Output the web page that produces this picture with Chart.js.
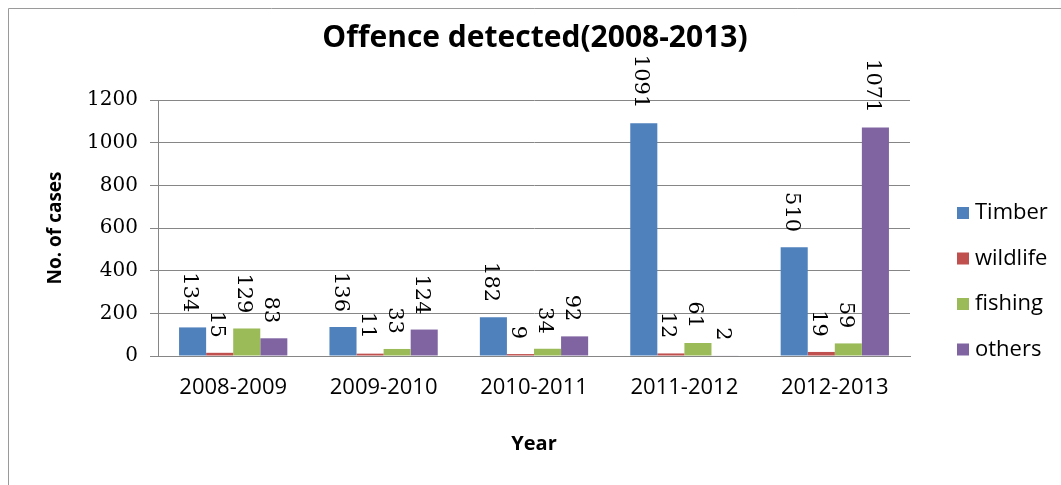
<!DOCTYPE html>
<html>
<head>
<meta charset="utf-8">
<script src="https://cdn.jsdelivr.net/npm/chart.js@4.4.0/dist/chart.umd.min.js"></script>
<style>
  html, body { margin: 0; padding: 0; background: #fff; }
  #wrap { width: 1061px; height: 485px; position: relative; }
</style>
</head>
<body>
<div id="wrap"><canvas id="offenceChart"></canvas></div>
<script>
// chart data
const years = ["2008-2009", "2009-2010", "2010-2011", "2011-2012", "2012-2013"];
const timber = [134, 136, 182, 1091, 510];
const wildlife = [15, 11, 9, 12, 19];
const fishing = [129, 33, 34, 61, 59];
const others = [83, 124, 92, 2, 1071];
const seriesNames = ["Timber", "wildlife", "fishing", "others"];
const seriesColors = ["#4F81BD", "#C0504D", "#9BBB59", "#8064A2"];
const yTicks = [0, 200, 400, 600, 800, 1000, 1200];
const chartTitle = "Offence detected(2008-2013)";

const SANS = "'Open Sans', 'Noto Sans', sans-serif";
const SERIF = "'DejaVu Serif', serif";

// white background, outer frame (only top and left edges show) and title
const framePlugin = {
  id: "frame",
  beforeDraw(chart) {
    let ctx = chart.ctx;
    ctx.save();
    ctx.fillStyle = "#fff";
    ctx.fillRect(0, 0, chart.width, chart.height);
    ctx.strokeStyle = "#9a9a9a";
    ctx.lineWidth = 1;
    ctx.beginPath();
    ctx.moveTo(8.5, chart.height);
    ctx.lineTo(8.5, 8.5);
    ctx.lineTo(chart.width, 8.5);
    ctx.stroke();

    ctx.fillStyle = "#000";
    ctx.font = "bold 30px " + SANS;
    ctx.textAlign = "center";
    ctx.textBaseline = "alphabetic";
    ctx.fillText(chartTitle, 535, 47);
    ctx.restore();
  }
};

// vertical value labels above each bar
const valueLabels = {
  id: "valueLabels",
  afterDatasetsDraw(chart) {
    let ctx = chart.ctx;
    ctx.save();
    ctx.font = "21px " + SERIF;
    ctx.fillStyle = "#000";
    ctx.textAlign = "right";
    ctx.textBaseline = "middle";
    chart.data.datasets.forEach((ds, i) => {
      chart.getDatasetMeta(i).data.forEach((bar, j) => {
        ctx.save();
        ctx.translate(bar.x - 3, bar.y - 15);
        ctx.rotate(Math.PI / 2);
        ctx.fillText(String(ds.data[j]), 0, 0);
        ctx.restore();
      });
    });
    ctx.restore();
  }
};

// legend on the right, Excel style
const sideLegend = {
  id: "sideLegend",
  afterDraw(chart) {
    let ctx = chart.ctx;
    ctx.save();
    ctx.font = "22px " + SANS;
    ctx.textBaseline = "middle";
    ctx.textAlign = "left";
    chart.data.datasets.forEach((ds, i) => {
      let y = 213 + i * 45.5;
      ctx.fillStyle = ds.backgroundColor;
      ctx.fillRect(957, y - 6, 12, 12);
      ctx.fillStyle = "#000";
      ctx.fillText(ds.label, 975, y);
    });
    ctx.restore();
  }
};

const seriesData = [timber, wildlife, fishing, others];

new Chart(document.getElementById("offenceChart"), {
  type: "bar",
  data: {
    labels: years,
    datasets: seriesData.map((d, i) => ({
      label: seriesNames[i],
      data: d,
      backgroundColor: seriesColors[i],
      borderWidth: 0,
      categoryPercentage: 0.72,
      barPercentage: 1
    }))
  },
  options: {
    responsive: true,
    maintainAspectRatio: false,
    animation: false,
    devicePixelRatio: 1,
    layout: { padding: { left: 0, right: 151, top: 100, bottom: 0 } },
    plugins: {
      legend: { display: false },
      tooltip: { enabled: false },
      title: { display: false }
    },
    scales: {
      x: {
        grid: { display: false, drawTicks: false },
        border: { display: true, color: "#868686" },
        ticks: { color: "#000", font: { family: SANS, size: 22 }, padding: 19, maxRotation: 0 },
        title: {
          display: true,
          text: "Year",
          color: "#000",
          font: { family: SANS, size: 20, weight: "bold" },
          padding: { top: 0, bottom: 29 }
        },
        afterFit(s) { s.height = 129; }
      },
      y: {
        min: 0,
        max: 1200,
        afterBuildTicks(s) { s.ticks = yTicks.map(v => ({ value: v })); },
        grid: { color: "#868686", tickLength: 8, drawTicks: true },
        border: { display: true, color: "#868686" },
        ticks: {
          color: "#000",
          font: { family: SERIF, size: 20 },
          padding: 12,
          callback: v => String(v)
        },
        title: {
          display: true,
          text: "No. of cases",
          color: "#000",
          font: { family: SANS, size: 19, weight: "bold" },
          padding: { top: 44, bottom: 0 }
        },
        afterFit(s) { s.width = 158; }
      }
    }
  },
  plugins: [framePlugin, valueLabels, sideLegend]
});
</script>
</body>
</html>
